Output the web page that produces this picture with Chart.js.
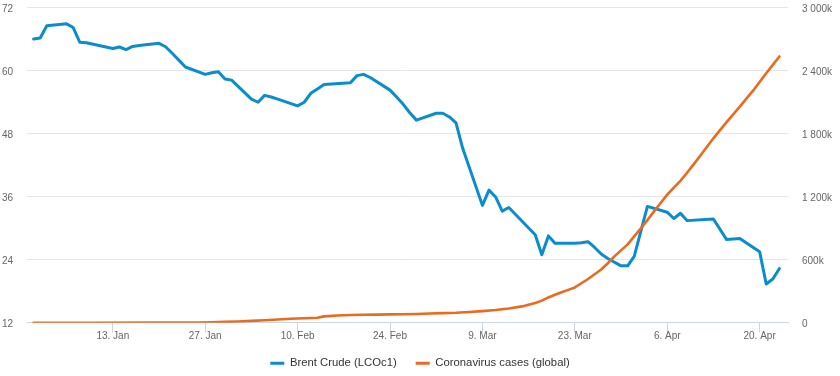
<!DOCTYPE html>
<html><head><meta charset="utf-8">
<script src="https://cdn.jsdelivr.net/npm/chart.js@4.4.1/dist/chart.umd.min.js"></script>
<style>html,body{margin:0;padding:0;background:#fff;} canvas{display:block;}</style>
</head><body>
<canvas id="c" width="840" height="376"></canvas>
<script>
// ---- data ----
const seriesNames = ['Brent Crude (LCOc1)', 'Coronavirus cases (global)'];

const brentDates = ['2020-01-01','2020-01-02','2020-01-03','2020-01-06','2020-01-07','2020-01-08','2020-01-09',
  '2020-01-13','2020-01-14','2020-01-15','2020-01-16','2020-01-17','2020-01-20','2020-01-21','2020-01-22','2020-01-23','2020-01-24',
  '2020-01-27','2020-01-28','2020-01-29','2020-01-30','2020-01-31','2020-02-03','2020-02-04','2020-02-05','2020-02-06','2020-02-07',
  '2020-02-10','2020-02-11','2020-02-12','2020-02-13','2020-02-14','2020-02-18','2020-02-19','2020-02-20','2020-02-21',
  '2020-02-24','2020-02-25','2020-02-26','2020-02-27','2020-02-28','2020-03-02','2020-03-03','2020-03-04','2020-03-05','2020-03-06',
  '2020-03-09','2020-03-10','2020-03-11','2020-03-12','2020-03-13','2020-03-16','2020-03-17','2020-03-18','2020-03-19','2020-03-20',
  '2020-03-23','2020-03-24','2020-03-25','2020-03-26','2020-03-27','2020-03-28','2020-03-30','2020-03-31','2020-04-01','2020-04-03',
  '2020-04-06','2020-04-07','2020-04-08','2020-04-09','2020-04-13','2020-04-15','2020-04-17','2020-04-20','2020-04-21','2020-04-22','2020-04-23'];
const brentValues = [65.9,66.1,68.45,68.8,68.1,65.3,65.2,
  64.1,64.4,63.9,64.5,64.7,65.1,64.45,63.2,61.9,60.6,
  59.2,59.5,59.7,58.3,58.1,54.5,53.9,55.2,54.9,54.5,
  53.2,53.9,55.6,56.4,57.25,57.6,58.96,59.2,58.6,
  56.2,54.9,53.5,51.9,50.5,51.8,51.8,51.1,50.0,45.2,
  34.3,37.2,35.9,33.2,33.9,30.0,28.7,24.9,28.5,27.1,
  27.1,27.2,27.4,26.3,25.05,24.2,22.8,22.8,24.6,34.1,
  33.0,31.8,32.8,31.4,31.7,27.8,28.0,25.5,19.35,20.3,22.3];

const covidDates = ['2020-01-01','2020-01-10','2020-01-20','2020-01-22','2020-01-24','2020-01-26','2020-01-28','2020-01-30',
  '2020-02-01','2020-02-03','2020-02-05','2020-02-07','2020-02-09','2020-02-11','2020-02-13','2020-02-14','2020-02-16','2020-02-18',
  '2020-02-20','2020-02-22','2020-02-24','2020-02-26','2020-02-28','2020-03-01','2020-03-03','2020-03-05','2020-03-07','2020-03-09',
  '2020-03-11','2020-03-13','2020-03-15','2020-03-17','2020-03-18','2020-03-19','2020-03-20','2020-03-21','2020-03-22','2020-03-23',
  '2020-03-24','2020-03-25','2020-03-26','2020-03-27','2020-03-28','2020-03-29','2020-03-30','2020-03-31','2020-04-01','2020-04-02',
  '2020-04-03','2020-04-04','2020-04-05','2020-04-06','2020-04-07','2020-04-08','2020-04-09','2020-04-10','2020-04-11','2020-04-12',
  '2020-04-13','2020-04-14','2020-04-15','2020-04-16','2020-04-17','2020-04-18','2020-04-19','2020-04-20','2020-04-21','2020-04-22','2020-04-23'];
// thousands of cases
const covidValues = [0,0,0.3,0.6,0.9,2,4.5,8,
  12,17,24,31,37,43,47,60,69,73,
  75,77,79,81,83,87,91,95,102,110,
  120,135,155,187,210,240,265,290,312,335,
  375,415,460,505,565,630,687,744,820,897,
  975,1058,1138,1217,1283,1348,1425,1505,1586,1670,
  1752,1830,1906,1980,2054,2130,2205,2288,2371,2450,2530];

const xTickDates = ['2020-01-13','2020-01-27','2020-02-10','2020-02-24','2020-03-09','2020-03-23','2020-04-06','2020-04-20'];
const xTickLabels = ['13. Jan','27. Jan','10. Feb','24. Feb','9. Mar','23. Mar','6. Apr','20. Apr'];
const leftTickValues = [12,24,36,48,60,72];
const rightTickValues = [0,600,1200,1800,2400,3000];
const rightTickLabels = ['0','600k','1 200k','1 800k','2 400k','3 000k'];
const xStart = '2019-12-31', xEnd = '2020-04-24';

// ---- helpers ----
function dayOf(s){ const [y,m,d]=s.split('-').map(Number); return (Date.UTC(y,m-1,d)-Date.UTC(2019,11,31))/86400000; }
const xTickDays = xTickDates.map(dayOf);

const BLUE = '#0b8dcd', ORANGE = '#ea6a1e';
const FONT = "'Liberation Sans', Arial, sans-serif";
const LEGEND_FONT = 11.3, LEGEND_PAD = 19, LEGEND_CENTER_Y = 363.3;

const legendShift = {
  id: 'legendShift',
  afterLayout(chart) {
    const lg = chart.legend;
    if (!lg) return;
    const h = lg.bottom - lg.top;
    lg.top = LEGEND_CENTER_Y - LEGEND_PAD - LEGEND_FONT / 2;
    lg.bottom = lg.top + h;
  }
};

new Chart(document.getElementById('c'), {
  type: 'line',
  plugins: [legendShift],
  data: {
    datasets: [
      { label: seriesNames[0], data: brentDates.map((d,i)=>({x:dayOf(d), y:brentValues[i]})),
        yAxisID: 'yL', borderColor: BLUE, backgroundColor: BLUE, borderWidth: 3, order: 1 },
      { label: seriesNames[1], data: covidDates.map((d,i)=>({x:dayOf(d), y:covidValues[i]})),
        yAxisID: 'yR', borderColor: ORANGE, backgroundColor: ORANGE, borderWidth: 2.6, order: 0 }
    ]
  },
  options: {
    responsive: false, animation: false, devicePixelRatio: 1,
    layout: { padding: { top: 7, left: 0, right: 0, bottom: -9 } },
    elements: { point: { radius: 0, hoverRadius: 0 }, line: { tension: 0, fill: false, borderJoinStyle: 'round', borderCapStyle: 'round' } },
    plugins: {
      tooltip: { enabled: false },
      legend: {
        position: 'bottom',
        labels: {
          font: { family: FONT, size: LEGEND_FONT }, color: '#333333',
          boxWidth: 14, boxHeight: 3, padding: LEGEND_PAD,
          sort: (a,b)=>a.datasetIndex-b.datasetIndex,
          generateLabels: (chart) => Chart.defaults.plugins.legend.labels.generateLabels(chart).map(l => Object.assign(l, {lineWidth: 0}))
        }
      }
    },
    scales: {
      x: {
        type: 'linear', min: dayOf(xStart), max: dayOf(xEnd) + 0.3,
        afterBuildTicks: (s) => { s.ticks = xTickDays.map(v => ({value: v})); },
        afterFit: (s) => { s.height = 22; s.paddingLeft = 0; s.paddingRight = 0; },
        ticks: { autoSkip: false, maxRotation: 0, padding: -2, color: '#666666', font: { family: FONT, size: 10 },
          callback: (v) => { const i = xTickDays.indexOf(v); return i >= 0 ? xTickLabels[i] : ''; } },
        grid: { drawOnChartArea: false, drawTicks: true, tickLength: 10, color: '#ccd6eb' },
        border: { display: true, color: '#ccd6eb', width: 1 }
      },
      yL: {
        position: 'left', min: 12, max: 72,
        afterBuildTicks: (s) => { s.ticks = leftTickValues.map(v => ({value: v})); },
        afterFit: (s) => { s.width = 27; s.paddingTop = 0; s.paddingBottom = 0; },
        ticks: { padding: 14, labelOffset: 2, color: '#666666', font: { family: FONT, size: 10 } },
        grid: { color: '#e6e6e6', drawTicks: false, lineWidth: 1 },
        border: { display: false }
      },
      yR: {
        position: 'right', min: 0, max: 3000,
        afterBuildTicks: (s) => { s.ticks = rightTickValues.map(v => ({value: v})); },
        afterFit: (s) => { s.width = 52; s.paddingTop = 0; s.paddingBottom = 0; },
        ticks: { padding: 14, labelOffset: 2, color: '#666666', font: { family: FONT, size: 10 },
          callback: (v) => { const i = rightTickValues.indexOf(v); return i >= 0 ? rightTickLabels[i] : ''; } },
        grid: { drawOnChartArea: false, drawTicks: false },
        border: { display: false }
      }
    }
  }
});
</script>
</body></html>
